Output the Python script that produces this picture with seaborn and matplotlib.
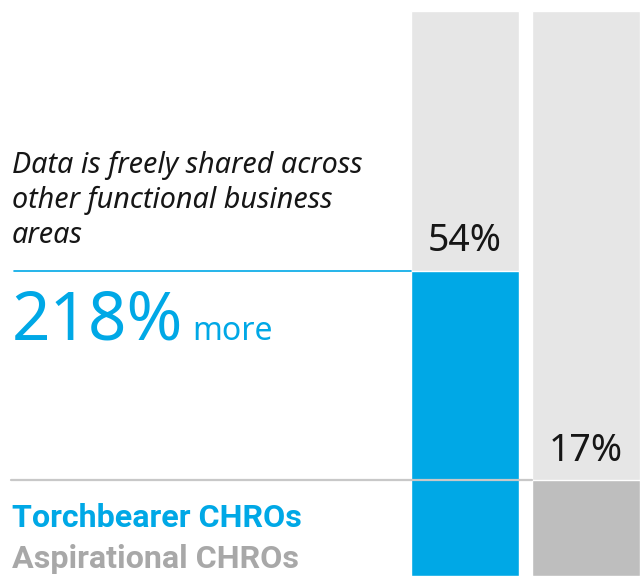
import pandas as pd
import seaborn as sns
import matplotlib.pyplot as plt
import matplotlib.transforms as mtransforms

# Data
groups = ['Torchbearer CHROs', 'Aspirational CHROs']
values = [54, 17]
labels = ['54%', '17%']
colors = ['#00a8e6', '#bebebe']
label_colors = ['#00a8e6', '#a8a8a8']
full = [100, 100]

W, H = 641, 576
sns.set_style('white')
plt.rcParams['font.family'] = ['Noto Sans', 'DejaVu Sans']

fig = plt.figure(figsize=(W / 100, H / 100), dpi=100)

# bar axes, pixel placement
ax = fig.add_axes([411 / W, 0, (640 - 411) / W, (576 - 11) / H])
bw = 108 / 121

df = pd.DataFrame({'group': groups, 'value': values, 'full': full})
sns.barplot(data=df, x='group', y='full', color='#e6e6e6', width=bw,
            saturation=1, ax=ax)
sns.barplot(data=df, x='group', y='value', hue='group', palette=colors,
            width=bw, saturation=1, legend=False, ax=ax)

ax.set_xlim(-bw / 2, 1 + bw / 2)
ax.set_ylim(0, 100)
ax.axis('off')

for i, (v, lab) in enumerate(zip(values, labels)):
    ax.annotate(lab, (i, v), xytext=(0, 14), textcoords='offset points',
                ha='center', va='baseline', fontsize=27, color='#161616')

# reference lines across the text column
tr = mtransforms.blended_transform_factory(fig.transFigure, ax.transData)
ax.plot([14 / W, 411 / W], [values[0], values[0]], color='#00a8e6', lw=1.2,
        transform=tr, clip_on=False)
ax.plot([11 / W, 532 / W], [values[1], values[1]], color='#c8c8c8', lw=1.6,
        transform=tr, clip_on=False)

def fy(px):
    return 1 - px / H

for k, line in enumerate(['Data is freely shared across',
                          'other functional business', 'areas']):
    fig.text(12 / W, fy(173 + 35 * k), line, fontsize=20.7,
             style='italic', color='#161616', va='baseline')

fig.text(12 / W, fy(340), '218%', fontsize=48.5, color='#00a8e6',
         va='baseline')
fig.text(192 / W, fy(340), 'more', fontsize=23, color='#00a8e6',
         va='baseline')

for k in range(2):
    fig.text(12 / W, fy(527 + 41 * k), groups[k], fontsize=23.2,
             fontweight='bold', family=['Roboto', 'DejaVu Sans'],
             color=label_colors[k], va='baseline')

fig.savefig('out.png', dpi=100)
